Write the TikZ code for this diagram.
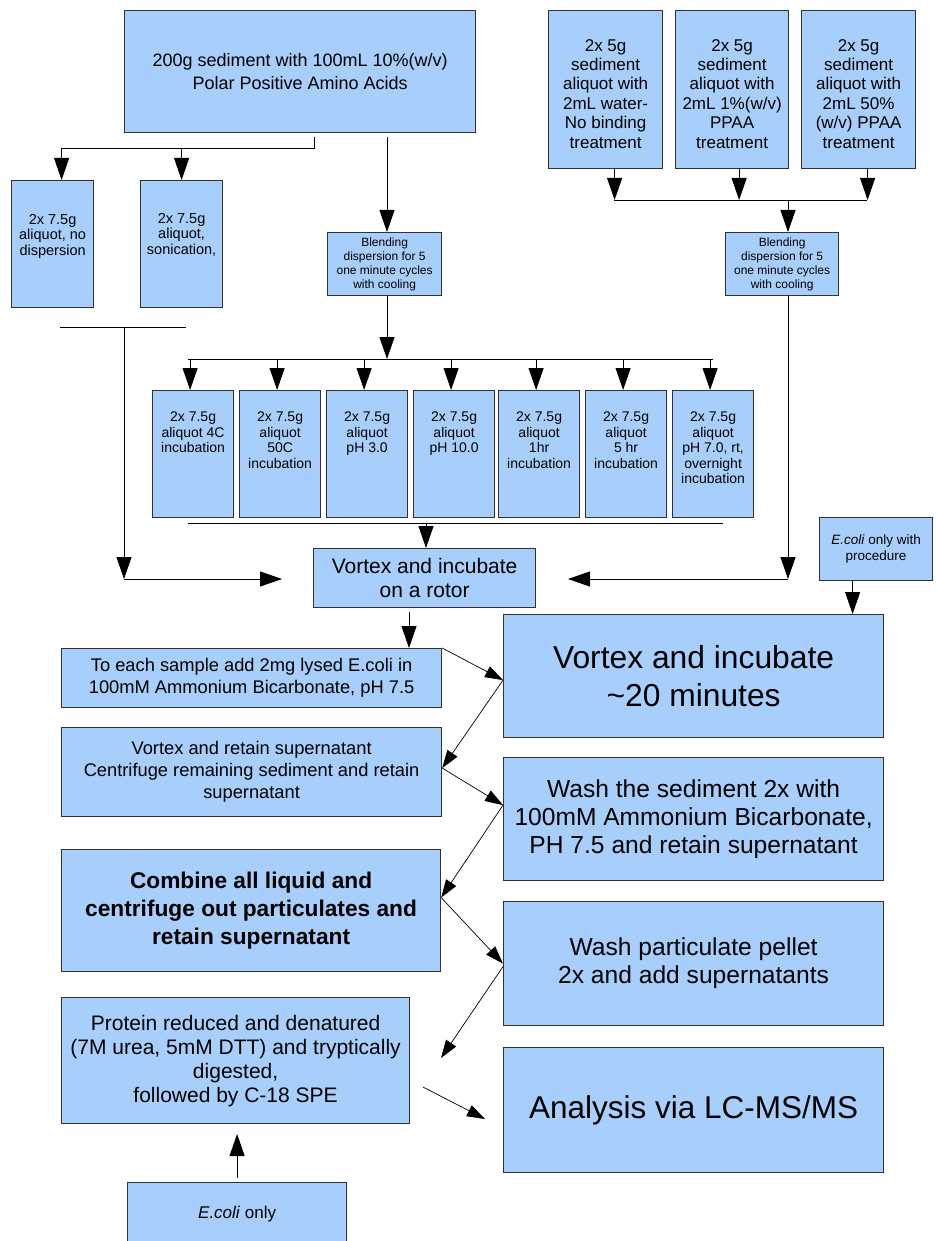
\documentclass[tikz,border=0pt]{standalone}
\usepackage{fontspec}
\setmainfont{Liberation Sans}
\usetikzlibrary{arrows.meta}
\definecolor{boxfill}{RGB}{168,207,252}
\definecolor{boxline}{RGB}{50,50,50}
\newcommand\myfs[2]{\fontsize{#1}{#2}\selectfont}
\begin{document}
\begin{tikzpicture}[x=1pt,y=-1pt,
 box/.style={draw=boxline, line width=1.2pt, fill=boxfill, inner sep=0pt, anchor=north west, align=center},
 conn/.style={line width=0.9pt, draw=black},
 arr/.style={conn, -{Triangle[width=15pt,length=22pt]}},
 darr/.style={line width=0.7pt, draw=black, -{Triangle[width=12pt,length=18pt]}},
 txt/.style={inner sep=0pt, align=center, anchor=north},
 ]
\useasboundingbox (0,0) rectangle (936,1241);

% ---------- top-left ----------
\node[box, minimum width=351, minimum height=122, font=\myfs{18}{23}] (t0) at (124,10) {200g sediment with 100mL 10\%(w/v)\\Polar Positive Amino Acids};

\node[box, minimum width=82, minimum height=127] (la) at (11,180) {};
\node[txt, font=\myfs{14.5}{15.5}] (lat) at ([yshift=-34pt]la.north) {2x 7.5g\\aliquot, no\\dispersion};
\node[box, minimum width=82, minimum height=127] (lb) at (140,180) {};
\node[txt, font=\myfs{14.5}{15.5}] (lbt) at ([yshift=-33pt]lb.north) {2x 7.5g\\aliquot,\\sonication,};

\node[box, minimum width=114, minimum height=63, font=\myfs{12}{14}] (bl1) at (327,232) {Blending\\dispersion for 5\\one minute cycles\\with cooling};

% ---------- top-right ----------
\node[box, minimum width=114, minimum height=158] (ra) at (548,10) {};
\node[txt, font=\myfs{17}{19.4}] (rat) at ([yshift=-29pt]ra.north) {2x 5g\\sediment\\aliquot with\\2mL water-\\No binding\\treatment};
\node[box, minimum width=113, minimum height=158] (rb) at (675,10) {};
\node[txt, font=\myfs{17}{19.4}] (rbt) at ([yshift=-29pt]rb.north) {2x 5g\\sediment\\aliquot with\\2mL 1\%(w/v)\\PPAA\\treatment};
\node[box, minimum width=114, minimum height=158] (rc) at (801,10) {};
\node[txt, font=\myfs{17}{19.4}] (rct) at ([yshift=-29pt]rc.north) {2x 5g\\sediment\\aliquot with\\2mL 50\%\\(w/v) PPAA\\treatment};

\node[box, minimum width=113, minimum height=63, font=\myfs{12}{14}] (bl2) at (725,232) {Blending\\dispersion for 5\\one minute cycles\\with cooling};

% ---------- row of seven ----------
\node[box, minimum width=81, minimum height=127] (r1) at (152,390) {};
\node[box, minimum width=81, minimum height=127] (r2) at (239,390) {};
\node[box, minimum width=81, minimum height=127] (r3) at (326,390) {};
\node[box, minimum width=81, minimum height=127] (r4) at (413,390) {};
\node[box, minimum width=81, minimum height=127] (r5) at (498,390) {};
\node[box, minimum width=81, minimum height=127] (r6) at (585,390) {};
\node[box, minimum width=81, minimum height=127] (r7) at (672,390) {};
\node[txt, font=\myfs{14}{15.5}] (r1t) at ([yshift=-22pt]r1.north) {2x 7.5g\\aliquot 4C\\incubation};
\node[txt, font=\myfs{14}{15.5}] (r2t) at ([yshift=-22pt]r2.north) {2x 7.5g\\aliquot\\50C\\incubation};
\node[txt, font=\myfs{14}{15.5}] (r3t) at ([yshift=-22pt]r3.north) {2x 7.5g\\aliquot\\pH 3.0};
\node[txt, font=\myfs{14}{15.5}] (r4t) at ([yshift=-22pt]r4.north) {2x 7.5g\\aliquot\\pH 10.0};
\node[txt, font=\myfs{14}{15.5}] (r5t) at ([yshift=-22pt]r5.north) {2x 7.5g\\aliquot\\1hr\\incubation};
\node[txt, font=\myfs{14}{15.5}] (r6t) at ([yshift=-22pt]r6.north) {2x 7.5g\\aliquot\\5 hr\\incubation};
\node[txt, font=\myfs{14}{15.5}] (r7t) at ([yshift=-22pt]r7.north) {2x 7.5g\\aliquot\\pH 7.0, rt,\\overnight\\incubation};

% ---------- middle ----------
\node[box, minimum width=222, minimum height=59, font=\myfs{21}{24}] (rot) at (313,548) {Vortex and incubate\\on a rotor};
\node[box, minimum width=113, minimum height=63, font=\myfs{13.5}{16}] (ep) at (819,517) {\textit{E.coli} only with\\procedure};

% ---------- left column ----------
\node[box, minimum width=380, minimum height=59, font=\myfs{18.3}{22}] (te) at (61,648) {To each sample add 2mg lysed E.coli in\\100mM Ammonium Bicarbonate, pH 7.5};
\node[box, minimum width=380, minimum height=89, font=\myfs{18.3}{22}] (vr) at (61,727) {Vortex and retain supernatant\\Centrifuge remaining sediment and retain\\supernatant};
\node[box, minimum width=379, minimum height=122, font=\bfseries\myfs{22.7}{28}] (cb) at (61,849) {Combine all liquid and\\centrifuge out particulates and\\retain supernatant};
\node[box, minimum width=348, minimum height=126, font=\myfs{21}{24}] (pr) at (61,997) {Protein reduced and denatured\\(7M urea, 5mM DTT) and tryptically\\digested,\\followed by C-18 SPE};
\node[box, minimum width=219, minimum height=63, font=\myfs{17}{22}] (eo) at (127,1182) {\textit{E.coli} only};

% ---------- right column ----------
\node[box, minimum width=380, minimum height=123, font=\myfs{31.8}{38}] (v20) at (503,614) {Vortex and incubate\\\textasciitilde20 minutes};
\node[box, minimum width=380, minimum height=123, font=\myfs{24.6}{28}] (ws) at (503,757) {Wash the sediment 2x with\\100mM Ammonium Bicarbonate,\\PH 7.5 and retain supernatant};
\node[box, minimum width=380, minimum height=124, font=\myfs{24.6}{28}] (wp) at (503,901) {Wash particulate pellet\\2x and add supernatants};
\node[box, minimum width=380, minimum height=125, font=\myfs{31.5}{38}] (an) at (503,1047) {Analysis via LC-MS/MS};

% ---------- connectors: top-left ----------
\coordinate (a1) at (314,137);
\coordinate (a2) at (314,148);
\draw[arr] (a1) -- (a2) -| ([xshift=9pt]la.north);
\draw[arr] (a2 -| lb.north) -- (lb.north);
\coordinate (a3) at (387,137);
\draw[arr] (a3) -- (a3 |- bl1.north);
\coordinate (d1) at (387,359);
\draw[arr] (d1 |- bl1.south) -- (d1);
\draw[conn] ([xshift=-5pt]r1.north |- d1) -- (r7.north |- d1);
\foreach \i in {1,...,7} \draw[arr] ([xshift=-3pt]r\i.north |- d1) -- ([xshift=-3pt]r\i.north);

\coordinate (u1) at (426,523);
\draw[conn] ([xshift=-5pt]r1.south |- u1) -- ([xshift=10pt]r7.south |- u1);
\draw[arr] (u1) -- (u1 |- rot.north);

\coordinate (m1) at (60,327);
\coordinate (m2) at (186,327);
\draw[conn] (m1) -- (m2);
\coordinate (m3) at (124,327);
\coordinate (m4) at (124,579);
\coordinate (m5) at (282,579);
\draw[arr] (m3) -- (m4);
\draw[arr] (m4) -- (m5);

% ---------- connectors: top-right ----------
\coordinate (j1) at (614,200);
\coordinate (j2) at (788,200);
\coordinate (j3) at (867,200);
\draw[arr] ([xshift=9pt]ra.south) -- ([xshift=9pt]ra.south |- j1);
\draw[arr] ([xshift=7pt]rb.south) -- ([xshift=7pt]rb.south |- j1);
\draw[arr] ([xshift=9pt]rc.south) -- ([xshift=9pt]rc.south |- j1);
\draw[conn] (j1) -- (j3);
\draw[arr] (j2) -- (j2 |- bl2.north);
\coordinate (k1) at (788,579);
\coordinate (k2) at (568,579);
\draw[arr] (k1 |- bl2.south) -- (k1);
\draw[arr] (k1) -- (k2);
\draw[arr] ([xshift=-23.5pt]ep.south) -- ([xshift=-23.5pt]ep.south |- v20.north);

% ---------- connectors: lower ----------
\coordinate (p1) at (409,612);
\draw[arr] (p1) -- (p1 |- te.north);
\draw[darr] (te.north east) -- ([yshift=-4pt]v20.west);
\draw[darr] ([yshift=-4pt]v20.west) -- ([yshift=4pt]vr.east);
\draw[darr] ([yshift=4pt]vr.east) -- ([yshift=14pt]ws.west);
\draw[darr] ([yshift=14pt]ws.west) -- ([yshift=13pt]cb.east);
\draw[darr] ([yshift=13pt]cb.east) -- (wp.west);
\coordinate (q1) at (441,1058);
\draw[darr] ([yshift=-3pt]wp.west) -- (q1);
\coordinate (q2) at (423,1087);
\coordinate (q3) at (485,1119);
\draw[darr] (q2) -- (q3);
\draw[arr] (eo.north |- 0,1178) -- (eo.north |- 0,1134);
\end{tikzpicture}
\end{document}
